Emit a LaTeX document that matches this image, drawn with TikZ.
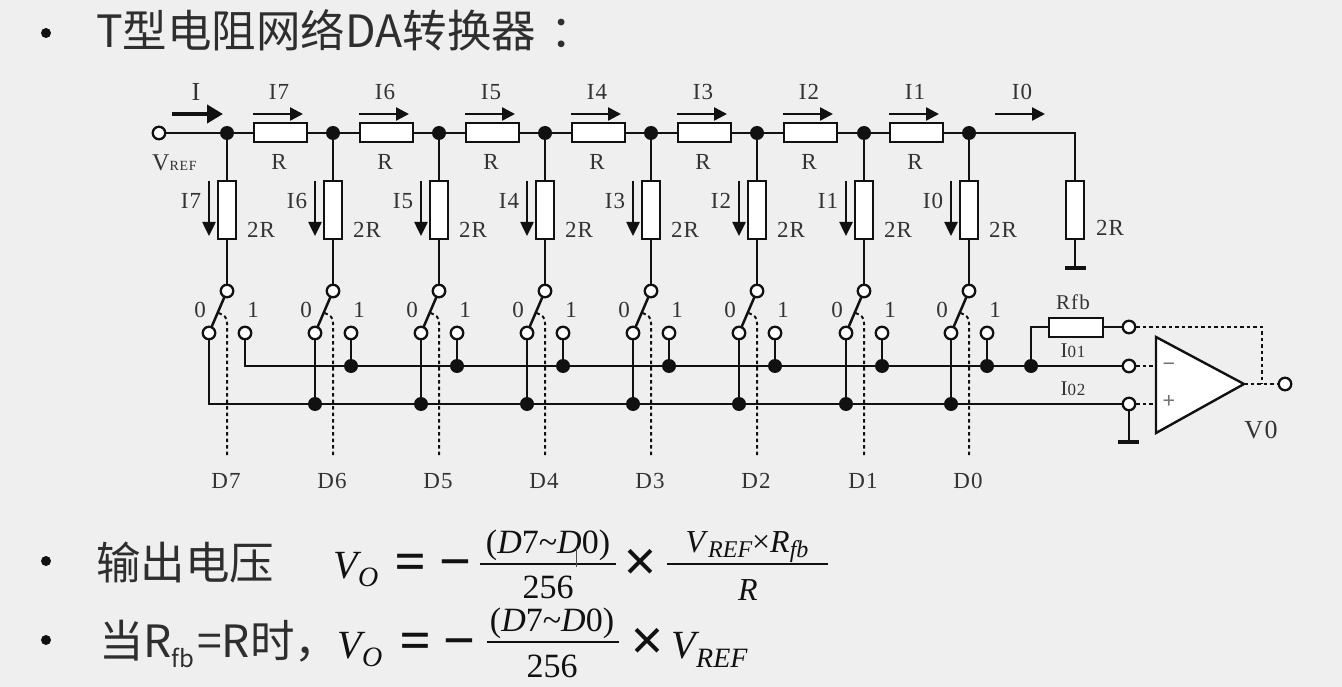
\documentclass[tikz,border=0pt]{standalone}
\usepackage{fontspec}
\setmainfont{Liberation Serif}
\newfontfamily\cjkf{Noto Sans CJK SC}
\newfontfamily\opf{Noto Sans}
\newfontfamily\labf[LetterSpace=5]{Liberation Serif}
\usetikzlibrary{arrows.meta,calc}
\definecolor{bgc}{HTML}{EFEFEF}
\definecolor{txtc}{HTML}{2E2E2E}
\definecolor{lblc}{HTML}{333333}
\definecolor{ink}{HTML}{111111}
\newcommand{\fsz}[1]{\fontsize{#1}{#1}\selectfont}
\tikzset{
 x=1pt,y=-1pt,
 wire/.style={line width=2.5pt,ink},
 dotted wire/.style={line width=2pt,ink,dash pattern=on 3.5pt off 3pt},
 jdot/.style={circle,fill=ink,inner sep=0,minimum size=14pt},
 ocirc/.style={circle,draw=ink,line width=2.3pt,fill=white,inner sep=0,minimum size=12.5pt},
 hres/.style={draw=ink,line width=2pt,fill=white,inner sep=0,minimum width=53pt,minimum height=19pt},
 vres/.style={draw=ink,line width=2pt,fill=white,inner sep=0,minimum width=18pt,minimum height=58pt},
 lab/.style={inner sep=0,text=lblc,font=\labf\fsz{23}},
 slab/.style={inner sep=0,text=lblc,font=\labf\fsz{21}},
 harr/.style={line width=2.5pt,ink,-{Triangle[length=13pt,width=13pt]}},
 Iarr/.style={line width=4pt,ink,-{Triangle[length=16pt,width=18pt]}},
 varr/.style={line width=2.5pt,ink,-{Triangle[length=14pt,width=13pt]}},
 ttl/.style={inner sep=0,anchor=base west,text=txtc,font=\cjkf\fsz{44.5}},
 bul/.style={circle,fill=ink,inner sep=0,minimum size=10pt},
 fm/.style={inner sep=0,anchor=base,text=ink,font=\fsz{40}\itshape},
 fr/.style={inner sep=0,anchor=base,text=ink,font=\opf\fsz{56}},
 fsub/.style={inner sep=0,anchor=base west,text=ink,font=\fsz{28}\itshape},
 fnum/.style={inner sep=0,anchor=base,text=ink,font=\fsz{34}},
 fbar/.style={line width=2.4pt,ink},
 gbar/.style={line width=3.8pt,ink},
}
\begin{document}
\begin{tikzpicture}
\useasboundingbox (0,0) rectangle (1342,687);
\fill[bgc] (0,0) rectangle (1342,687);
% title and bullets
\node[bul] (b1) at (46,33) {};
\node[bul] (b2) at (46,561) {};
\node[bul] (b3) at (46,640) {};
\node[ttl] (title) at (96,48) {T型电阻网络DA转换器\kern14pt：};
\node[ttl] (t2) at (96,579) {输出电压};
\node[ttl] (t3) at (99,657) {当R};
\node[ttl,font=\cjkf\fsz{24}] (t3b) at (171,667) {fb};
\node[ttl] (t3c) at (197,657) {=R时，};
% top line elements
\node[ocirc] (vref) at (159,133) {};
\node[lab,anchor=base west,font=\labf\fsz{24}] (vreft) at (152,171) {V\fsz{14}REF};
\foreach \i/\x/\n in {1/227/7,2/333/6,3/439/5,4/545/4,5/651/3,6/757/2,7/864/1,8/969/0}{
  \node[jdot] (j\i) at (\x,133) {};
  \node[vres] (v\i) at (\x,210) {};
  \node[ocirc] (st\i) at (\x,291) {};
  \node[ocirc] (sl\i) at (\x-18,333) {};
  \node[ocirc] (sr\i) at (\x+18,333) {};
  \draw[wire] (j\i) -- (v\i) -- (st\i);
  \draw[wire,shorten >=-1pt,shorten <=-1pt] (st\i) -- (sl\i);
  \coordinate (dk\i) at (\x-8.5,313);
  \coordinate (de\i) at (\x,458);
  \draw[dotted wire] (dk\i) .. controls (\x-3,315) and (\x,317) .. (\x,323) -- (de\i);
  \node[lab] (sv\i) at (\x-27,310) {0};
  \node[lab] (so\i) at (\x+26,310) {1};
  \node[lab] (d\i) at (\x-1,481) {D\n};
  \node[lab] (iv\i) at (\x-36,201) {I\n};
  \node[lab] (rv\i) at (\x+34,230) {2R};
  \coordinate (as\i) at (\x-18,181);
  \coordinate (ae\i) at (\x-18,236);
  \draw[varr] (as\i) -- (ae\i);
}
\foreach \i/\x/\n in {1/280/7,2/386/6,3/492/5,4/598/4,5/704/3,6/810/2,7/916/1}{
  \node[hres] (h\i) at (\x,133) {};
  \node[lab] (ht\i) at (\x-1,92) {I\n};
  \node[lab] (hr\i) at (\x-1,162) {R};
  \coordinate (hs\i) at (\x-27,114);
  \coordinate (he\i) at (\x+23,114);
  \draw[harr] (hs\i) -- (he\i);
}
\draw[wire] (vref) -- (j1);
\foreach \a/\b in {1/2,2/3,3/4,4/5,5/6,6/7,7/8}{
  \draw[wire] (j\a) -- (h\a) -- (j\b);
}
\coordinate (ias) at (172,114);
\coordinate (iae) at (223,114);
\draw[Iarr] (ias) -- (iae);
\node[lab,font=\labf\fsz{26}] (it) at (196,92) {I};
% terminating resistor
\coordinate (cr) at (1075,133);
\node[vres] (vt) at (1075,210) {};
\coordinate (gt) at (1075,268);
\coordinate (gtl) at (1065,268);
\coordinate (gtr) at (1086,268);
\draw[wire] (j8) -- (cr) -- (vt) -- (gt);
\draw[gbar] (gtl) -- (gtr);
\node[lab] (i0t) at (1022,92) {I0};
\coordinate (i0s) at (995,114);
\coordinate (i0e) at (1045,114);
\draw[harr] (i0s) -- (i0e);
\node[lab] (r2t) at (1110,228) {2R};
% buses
\foreach \i/\x in {2/333,3/439,4/545,5/651,6/757,7/864,8/969}{
  \node[jdot] (bt\i) at (\x+18,366) {};
  \node[jdot] (bb\i) at (\x-18,404) {};
  \draw[wire] (sr\i) -- (bt\i);
  \draw[wire] (sl\i) -- (bb\i);
}
\node[jdot] (bf) at (1031,366) {};
\node[ocirc] (in1) at (1129,366) {};
\node[ocirc] (in2) at (1129,404) {};
\node[ocirc] (fbk) at (1129,327) {};
\node[hres,minimum width=54pt] (rf) at (1076,327) {};
\draw[wire] (sr1) |- (bt2) -- (bt3) -- (bt4) -- (bt5) -- (bt6) -- (bt7) -- (bt8) -- (bf) -- (in1);
\draw[wire] (sl1) |- (bb2) -- (bb3) -- (bb4) -- (bb5) -- (bb6) -- (bb7) -- (bb8) -- (in2);
\draw[wire] (bf) |- (rf);
\draw[wire] (rf) -- (fbk);
\coordinate (g2) at (1129,442);
\coordinate (g2l) at (1118,442);
\coordinate (g2r) at (1139,442);
\draw[wire] (in2) -- (g2);
\draw[gbar] (g2l) -- (g2r);
\node[slab] (rft) at (1073,302) {Rfb};
\node[slab] (i01) at (1073,351) {I\fsz{17}01};
\node[slab] (i02) at (1073,389) {I\fsz{17}02};
% op-amp
\coordinate (oa1) at (1156,337);
\coordinate (oa2) at (1156,433);
\coordinate (oa3) at (1244,384);
\coordinate (om) at (1156,366);
\coordinate (op) at (1156,404);
\coordinate (ofb) at (1262,384);
\node[ocirc] (vo) at (1285,384) {};
\draw[dotted wire] (in1) -- (om);
\draw[dotted wire] (in2) -- (op);
\draw[dotted wire] (oa3) -- (vo);
\draw[dotted wire] (fbk) -| (ofb);
\draw[draw=ink,line width=2.4pt,fill=white,line join=miter] (oa1) -- (oa3) -- (oa2) -- cycle;
\node[inner sep=0,text=black!55,font=\opf\fsz{22}] (minus) at (1169,367) {−};
\node[inner sep=0,text=black!55,font=\opf\fsz{22}] (plus) at (1169,402) {+};
\node[lab,font=\labf\fsz{26}] (vot) at (1261,430) {V0};
% formula 1
\node[fm,anchor=base west] (f1v) at (333,578) {V};
\node[fsub] (f1o) at (358,586) {O};
\node[fr] (f1e) at (411,581) {=};
\node[fr] (f1m) at (456,581) {−};
\node[fnum] (f1n) at (548,553) {(\textit{D}7\textasciitilde\textit{D}0)};
\coordinate (f1a) at (480,564);
\coordinate (f1b) at (616,564);
\draw[fbar] (f1a) -- (f1b);
\node[fnum] (f1d) at (548,598) {256};
\node[fr] (f1x) at (641,581) {×};
\node[fnum,font=\fsz{32}] (f1n2) at (747,552) {\textit{V}\raisebox{-5pt}{\fsz{24}\itshape REF}×\textit{R}\raisebox{-5pt}{\fsz{24}\itshape fb}};
\coordinate (f1c) at (667,564);
\coordinate (f1f) at (828,564);
\draw[fbar] (f1c) -- (f1f);
\node[fnum,font=\fsz{32}\itshape] (f1r) at (748,600) {R};
\coordinate (cu1) at (576,548);
\coordinate (cu2) at (576,567);
\draw[line width=1pt,black!70] (cu1) -- (cu2);
% formula 2
\node[fm,anchor=base west] (f2v) at (337,658) {V};
\node[fsub] (f2o) at (362,666) {O};
\node[fr] (f2e) at (416,660) {=};
\node[fr] (f2m) at (460,660) {−};
\node[fnum] (f2n) at (552,631) {(\textit{D}7\textasciitilde\textit{D}0)};
\coordinate (f2a) at (487,642);
\coordinate (f2b) at (619,642);
\draw[fbar] (f2a) -- (f2b);
\node[fnum] (f2d) at (552,677) {256};
\node[fr] (f2x) at (648,660) {×};
\node[fm,anchor=base west] (f2w) at (671,658) {V};
\node[fsub] (f2s) at (696,667) {REF};
\end{tikzpicture}
\end{document}
